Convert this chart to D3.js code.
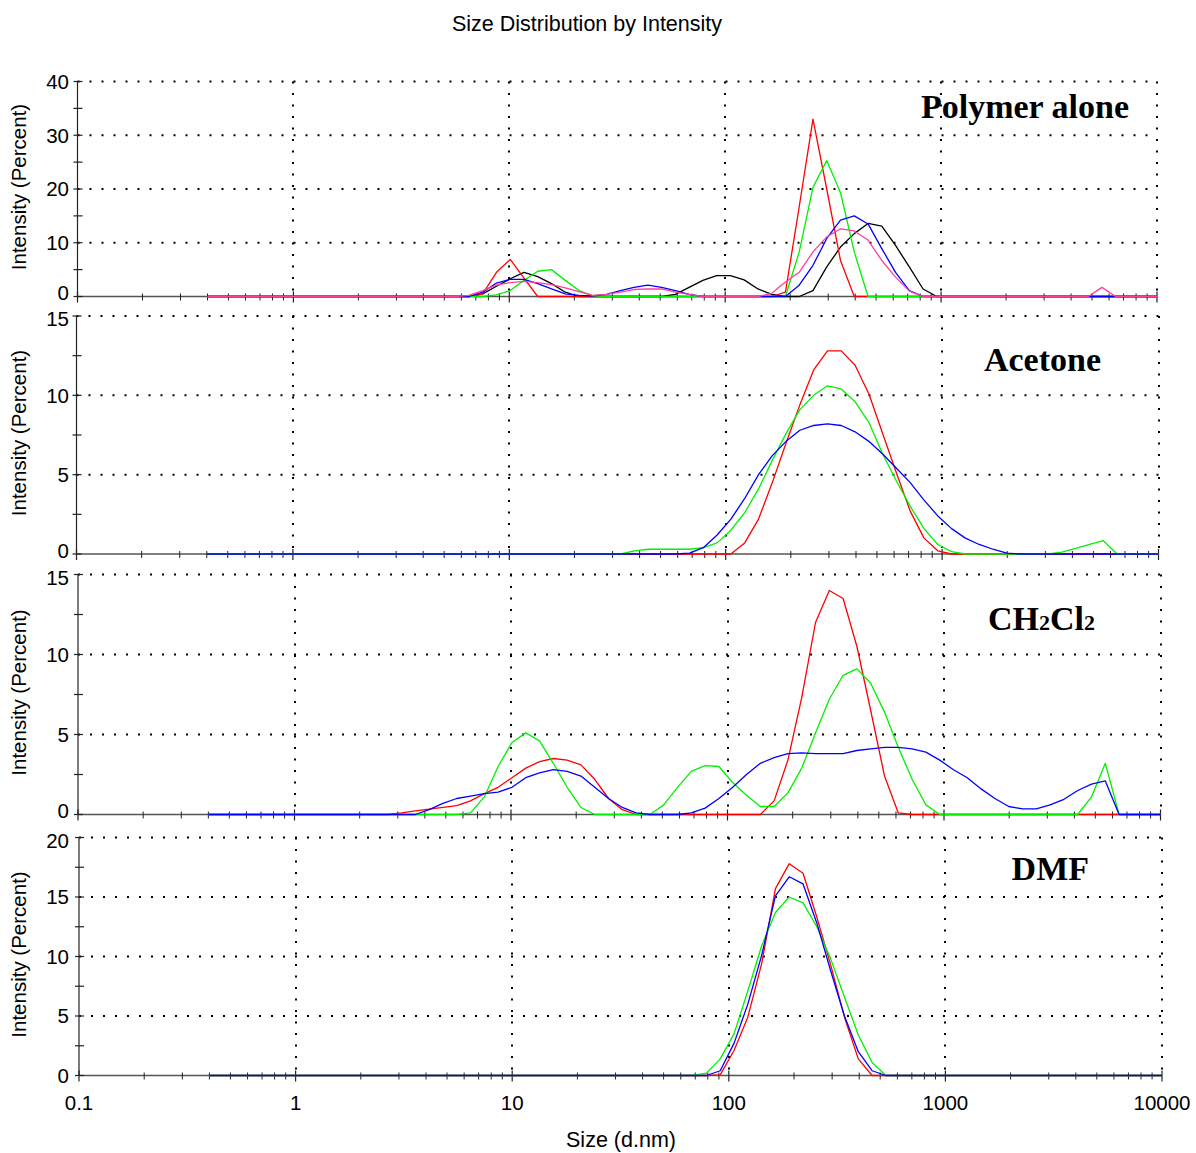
<!DOCTYPE html>
<html>
<head>
<meta charset="utf-8">
<script src="https://cdn.jsdelivr.net/npm/d3@7"></script>
<style>
  body { margin: 0; background: #fff; }
  text { font-family: "Liberation Sans", Arial, sans-serif; fill: #000; }
  .ptitle { font-family: "Liberation Serif", "Times New Roman", serif; font-weight: bold; }
</style>
</head>
<body>
<script>
// size classes (d.nm) of the instrument, 70 bins
var sizes = [0.4, 0.4632, 0.5365, 0.6213, 0.7195, 0.8332, 0.9649, 1.117, 1.294, 1.499,
    1.736, 2.010, 2.328, 2.696, 3.122, 3.615, 4.187, 4.849, 5.615, 6.503,
    7.531, 8.721, 10.10, 11.70, 13.54, 15.69, 18.17, 21.04, 24.36, 28.21,
    32.67, 37.84, 43.82, 50.75, 58.77, 68.06, 78.82, 91.28, 105.7, 122.4,
    141.8, 164.2, 190.1, 220.2, 255.0, 295.3, 342.0, 396.1, 458.7, 531.2,
    615.1, 712.4, 825.0, 955.4, 1106, 1281, 1484, 1718, 1990, 2305,
    2669, 3091, 3580, 4145, 4801, 5560, 6439, 7456, 8635, 10000];

// Polymer alone
var polymerRed = [0, 0, 0, 0, 0, 0, 0, 0, 0, 0,
    0, 0, 0, 0, 0, 0, 0, 0, 0, 0,
    0.5, 4.5, 6.9, 3.4, 0, 0, 0, 0, 0, 0,
    0, 0, 0, 0, 0, 0, 0, 0, 0, 0,
    0, 0, 0.8, 16.7, 33, 20, 6.7, 0, 0, 0,
    0, 0, 0, 0, 0, 0, 0, 0, 0, 0,
    0, 0, 0, 0, 0, 0, 0, 0, 0, 0];
var polymerGreen = [0, 0, 0, 0, 0, 0, 0, 0, 0, 0,
    0, 0, 0, 0, 0, 0, 0, 0, 0, 0,
    0, 0.3, 1.1, 3.0, 4.7, 5.0, 3.0, 1.1, 0.1, 0,
    0, 0, 0, 0, 0, 0, 0, 0, 0, 0,
    0, 0, 0, 8.3, 20.3, 25.3, 19.3, 8.3, 0, 0,
    0, 0, 0, 0, 0, 0, 0, 0, 0, 0,
    0, 0, 0, 0, 0, 0, 0, 0, 0, 0];
var polymerBlue = [0, 0, 0, 0, 0, 0, 0, 0, 0, 0,
    0, 0, 0, 0, 0, 0, 0, 0, 0, 0,
    0.8, 2.5, 3.2, 3.2, 2.4, 1.4, 0.5, 0.2, 0.1, 0.4,
    1.1, 1.7, 2.1, 1.7, 1.1, 0.4, 0, 0, 0, 0,
    0, 0, 0, 2.1, 5.8, 10.8, 14.2, 15.0, 13.5, 8.9,
    4.5, 1.1, 0, 0, 0, 0, 0, 0, 0, 0,
    0, 0, 0, 0, 0, 0, 0, 0, 0, 0];
var polymerBlack = [0, 0, 0, 0, 0, 0, 0, 0, 0, 0,
    0, 0, 0, 0, 0, 0, 0, 0, 0, 0,
    0.5, 1.9, 3.3, 4.5, 3.7, 2.4, 0.8, 0, 0, 0,
    0, 0, 0, 0, 0.4, 1.7, 3.0, 3.9, 3.9, 3.1,
    1.4, 0.4, 0, 0, 1.1, 5.5, 9.2, 11.7, 13.6, 13.1,
    9.5, 5.5, 1.4, 0, 0, 0, 0, 0, 0, 0,
    0, 0, 0, 0, 0, 0, 0, 0, 0, 0];
var polymerPink = [0, 0, 0, 0, 0, 0, 0, 0, 0, 0,
    0, 0, 0, 0, 0, 0, 0, 0, 0, 0.2,
    1.1, 2.1, 2.6, 2.8, 2.6, 2.2, 1.6, 0.9, 0.2, 0.4,
    0.8, 1.3, 1.4, 1.4, 0.8, 0.4, 0, 0, 0, 0,
    0, 0.6, 2.7, 4.5, 8.3, 11.1, 12.6, 12.2, 10.5, 6.7,
    3.6, 1.0, 0, 0, 0, 0, 0, 0, 0, 0,
    0, 0, 0, 0, 0, 1.7, 0, 0, 0, 0];

// Acetone
var acetoneRed = [0, 0, 0, 0, 0, 0, 0, 0, 0, 0,
    0, 0, 0, 0, 0, 0, 0, 0, 0, 0,
    0, 0, 0, 0, 0, 0, 0, 0, 0, 0,
    0, 0, 0, 0, 0, 0, 0, 0, 0, 0.7,
    2.2, 4.5, 7.0, 9.4, 11.6, 12.8, 12.8, 11.9, 10.1, 7.6,
    5.1, 2.7, 1.0, 0.2, 0, 0, 0, 0, 0, 0,
    0, 0, 0, 0, 0, 0, 0, 0, 0, 0];
var acetoneGreen = [0, 0, 0, 0, 0, 0, 0, 0, 0, 0,
    0, 0, 0, 0, 0, 0, 0, 0, 0, 0,
    0, 0, 0, 0, 0, 0, 0, 0, 0, 0,
    0, 0.2, 0.3, 0.3, 0.3, 0.3, 0.4, 0.7, 1.5, 2.6,
    4.1, 5.9, 7.6, 9.1, 10.0, 10.6, 10.4, 9.6, 8.3, 6.3,
    4.6, 3.0, 1.6, 0.6, 0.15, 0, 0, 0, 0, 0,
    0, 0, 0.12, 0.36, 0.6, 0.84, 0, 0, 0, 0];
var acetoneBlue = [0, 0, 0, 0, 0, 0, 0, 0, 0, 0,
    0, 0, 0, 0, 0, 0, 0, 0, 0, 0,
    0, 0, 0, 0, 0, 0, 0, 0, 0, 0,
    0, 0, 0, 0, 0, 0.05, 0.4, 1.2, 2.2, 3.5,
    5.0, 6.2, 7.1, 7.8, 8.1, 8.2, 8.1, 7.7, 7.1, 6.3,
    5.4, 4.5, 3.4, 2.4, 1.6, 1.0, 0.6, 0.3, 0.05, 0,
    0, 0, 0, 0, 0, 0, 0, 0, 0, 0];

// CH2Cl2
var dcmRed = [0, 0, 0, 0, 0, 0, 0, 0, 0, 0,
    0, 0, 0, 0, 0.1, 0.23, 0.33, 0.44, 0.56, 0.85,
    1.3, 1.7, 2.3, 2.9, 3.3, 3.5, 3.4, 3.1, 2.2, 1.0,
    0.3, 0, 0, 0, 0, 0, 0, 0, 0, 0,
    0, 0.85, 3.4, 7.3, 12.0, 14.0, 13.5, 10.5, 6.5, 2.4,
    0.1, 0, 0, 0, 0, 0, 0, 0, 0, 0,
    0, 0, 0, 0, 0, 0, 0, 0, 0, 0];
var dcmGreen = [0, 0, 0, 0, 0, 0, 0, 0, 0, 0,
    0, 0, 0, 0, 0, 0, 0, 0, 0, 0.1,
    1.1, 3.0, 4.5, 5.1, 4.6, 3.2, 1.7, 0.44, 0, 0,
    0, 0, 0, 0.6, 1.7, 2.7, 3.05, 3.0, 2.0, 1.2,
    0.5, 0.5, 1.35, 2.9, 5.1, 7.2, 8.7, 9.1, 8.2, 6.4,
    4.2, 2.2, 0.6, 0, 0, 0, 0, 0, 0, 0,
    0, 0, 0, 0, 1.1, 3.2, 0, 0, 0, 0];
var dcmBlue = [0, 0, 0, 0, 0, 0, 0, 0, 0, 0,
    0, 0, 0, 0, 0, 0, 0.3, 0.7, 1.0, 1.15,
    1.3, 1.4, 1.7, 2.3, 2.6, 2.8, 2.7, 2.4, 1.7, 1.0,
    0.44, 0.1, 0, 0, 0, 0.1, 0.4, 1.0, 1.7, 2.5,
    3.2, 3.55, 3.8, 3.85, 3.8, 3.8, 3.8, 4.0, 4.1, 4.2,
    4.2, 4.1, 3.9, 3.4, 2.8, 2.3, 1.6, 1.0, 0.5, 0.35,
    0.35, 0.6, 0.95, 1.5, 1.9, 2.1, 0, 0, 0, 0];

// DMF
var dmfRed = [0, 0, 0, 0, 0, 0, 0, 0, 0, 0,
    0, 0, 0, 0, 0, 0, 0, 0, 0, 0,
    0, 0, 0, 0, 0, 0, 0, 0, 0, 0,
    0, 0, 0, 0, 0, 0, 0, 0.05, 2.1, 4.9,
    9.4, 15.7, 17.8, 17.0, 13.3, 9.3, 4.9, 1.4, 0, 0,
    0, 0, 0, 0, 0, 0, 0, 0, 0, 0,
    0, 0, 0, 0, 0, 0, 0, 0, 0, 0];
var dmfGreen = [0, 0, 0, 0, 0, 0, 0, 0, 0, 0,
    0, 0, 0, 0, 0, 0, 0, 0, 0, 0,
    0, 0, 0, 0, 0, 0, 0, 0, 0, 0,
    0, 0, 0, 0, 0, 0, 0.2, 1.4, 3.5, 7.1,
    10.9, 13.7, 15.0, 14.5, 12.5, 9.8, 6.6, 3.4, 1.1, 0,
    0, 0, 0, 0, 0, 0, 0, 0, 0, 0,
    0, 0, 0, 0, 0, 0, 0, 0, 0, 0];
var dmfBlue = [0, 0, 0, 0, 0, 0, 0, 0, 0, 0,
    0, 0, 0, 0, 0, 0, 0, 0, 0, 0,
    0, 0, 0, 0, 0, 0, 0, 0, 0, 0,
    0, 0, 0, 0, 0, 0, 0, 0.4, 2.7, 6.0,
    10.1, 15.1, 16.7, 16.1, 12.8, 8.8, 5.0, 2.0, 0.4, 0,
    0, 0, 0, 0, 0, 0, 0, 0, 0, 0,
    0, 0, 0, 0, 0, 0, 0, 0, 0, 0];

var xTickValues = [0.1, 1, 10, 100, 1000, 10000];
var xTickLabels = ["0.1", "1", "10", "100", "1000", "10000"];
var panelNames = ["Polymer alone", "Acetone", "CH2Cl2", "DMF"];
var yMaxes = [40, 15, 15, 20];
var ySteps = [10, 5, 5, 5];

var w = 1196;
var h = 1153;
var colors = { red: "#ff0000", green: "#00f000", blue: "#0000ff", black: "#000000", pink: "#ff3fa0" };

// layout of the four stacked panels
var panels = [
    { top: 81.5, bottom: 296.5, x0: 77.5, x1: 1157, labelX: 1129, labelY: 118,
      series: [[polymerBlack, colors.black], [polymerRed, colors.red], [polymerGreen, colors.green], [polymerBlue, colors.blue], [polymerPink, colors.pink]] },
    { top: 316, bottom: 554, x0: 76.5, x1: 1158.5, labelX: 1101, labelY: 371,
      series: [[acetoneRed, colors.red], [acetoneGreen, colors.green], [acetoneBlue, colors.blue]] },
    { top: 574.5, bottom: 814.5, x0: 78, x1: 1160.5, labelX: 1095, labelY: 630,
      series: [[dcmRed, colors.red], [dcmGreen, colors.green], [dcmBlue, colors.blue]] },
    { top: 837.5, bottom: 1075.5, x0: 79, x1: 1162, labelX: 1089, labelY: 880,
      series: [[dmfRed, colors.red], [dmfGreen, colors.green], [dmfBlue, colors.blue]] }
];

var svg = d3.select("body").append("svg").attr("width", w).attr("height", h);
svg.append("rect").attr("width", w).attr("height", h).attr("fill", "#fff");

svg.append("text")
    .attr("x", 587).attr("y", 31)
    .attr("text-anchor", "middle")
    .attr("font-size", "21.5px")
    .text("Size Distribution by Intensity");

panels.forEach(function (p, k) {
    var x = d3.scaleLog().domain([0.1, 10000]).range([p.x0, p.x1]);
    var y = d3.scaleLinear().domain([0, yMaxes[k]]).range([p.bottom, p.top]);
    var g = svg.append("g");
    var first = k === 0;
    var last = k === panels.length - 1;

    // dotted grid
    var yTicks = d3.range(0, yMaxes[k] + 0.001, ySteps[k]);
    g.selectAll(".hgrid")
        .data(yTicks.filter(function (d) { return d > 0; }))
        .enter().append("line")
        .attr("x1", p.x0).attr("x2", p.x1)
        .attr("y1", function (d) { return y(d); })
        .attr("y2", function (d) { return y(d); })
        .attr("stroke", "#000").attr("stroke-width", 2)
        .attr("stroke-dasharray", "2,10");
    g.selectAll(".vgrid")
        .data(xTickValues.slice(1))
        .enter().append("line")
        .attr("x1", function (d) { return Math.round(x(d)); })
        .attr("x2", function (d) { return Math.round(x(d)); })
        .attr("y1", p.top).attr("y2", p.bottom)
        .attr("stroke", "#000").attr("stroke-width", 2)
        .attr("stroke-dasharray", "2,9.5");

    // x axis line + log ticks
    g.append("line")
        .attr("x1", p.x0).attr("x2", p.x1)
        .attr("y1", p.bottom).attr("y2", p.bottom)
        .attr("stroke", "#555").attr("stroke-width", 1.5);
    var minor = [];
    xTickValues.slice(0, -1).forEach(function (d) {
        for (var m = 2; m < 10; m++) minor.push(d * m);
    });
    g.selectAll(".xminor")
        .data(minor)
        .enter().append("line")
        .attr("x1", function (d) { return x(d); })
        .attr("x2", function (d) { return x(d); })
        .attr("y1", p.bottom - 3).attr("y2", p.bottom + 4)
        .attr("stroke", "#222").attr("stroke-width", 1);
    g.selectAll(".xmajor")
        .data(xTickValues)
        .enter().append("line")
        .attr("x1", function (d) { return x(d); })
        .attr("x2", function (d) { return x(d); })
        .attr("y1", p.bottom - 5).attr("y2", p.bottom + 6)
        .attr("stroke", "#222").attr("stroke-width", 1.2);

    // y axis
    g.append("line")
        .attr("x1", p.x0).attr("x2", p.x0)
        .attr("y1", p.top).attr("y2", p.bottom)
        .attr("stroke", "#222").attr("stroke-width", 1.2);
    var yMinor = d3.range(ySteps[k] / 2, yMaxes[k], ySteps[k]);
    g.selectAll(".ytick")
        .data(yTicks.concat(yMinor))
        .enter().append("line")
        .attr("x1", p.x0 - 4).attr("x2", p.x0 + 5)
        .attr("y1", function (d) { return y(d); })
        .attr("y2", function (d) { return y(d); })
        .attr("stroke", "#222").attr("stroke-width", 1.2);
    // stacked panels: nudge the 0 label up and the top label down so they do not collide
    g.selectAll(".ylabel")
        .data(yTicks)
        .enter().append("text")
        .attr("x", 69)
        .attr("y", function (d) {
            var shift = 0;
            if (d === 0 && !last) shift = -3.5;
            if (d === yMaxes[k] && !first) shift = 3;
            return y(d) + shift;
        })
        .attr("dy", "0.36em")
        .attr("text-anchor", "end")
        .attr("font-size", "20.5px")
        .text(function (d) { return d; });

    svg.append("text")
        .attr("transform", "translate(18," + ((p.top + p.bottom) / 2 - 2) + ") rotate(-90)")
        .attr("text-anchor", "middle")
        .attr("dominant-baseline", "central")
        .attr("font-size", "20.5px")
        .text("Intensity (Percent)");

    // data lines
    var line = d3.line()
        .x(function (d, i) { return x(sizes[i]); })
        .y(function (d) { return y(d); });
    p.series.forEach(function (s) {
        g.append("path")
            .datum(s[0])
            .attr("d", line)
            .attr("fill", "none")
            .attr("stroke", s[1])
            .attr("stroke-width", 1.3)
            .attr("stroke-linejoin", "round");
    });

    // panel label
    var t = g.append("text")
        .attr("class", "ptitle")
        .attr("x", p.labelX).attr("y", p.labelY)
        .attr("text-anchor", "end")
        .attr("font-size", "34px");
    if (panelNames[k] === "CH2Cl2") {
        t.append("tspan").text("CH");
        t.append("tspan").attr("font-size", "22px").text("2");
        t.append("tspan").text("Cl");
        t.append("tspan").attr("font-size", "22px").text("2");
    } else {
        t.text(panelNames[k]);
    }

    // x tick labels on the bottom panel only
    if (last) {
        g.selectAll(".xlabel")
            .data(xTickValues)
            .enter().append("text")
            .attr("x", function (d) { return x(d); })
            .attr("y", 1110)
            .attr("text-anchor", "middle")
            .attr("font-size", "20.5px")
            .text(function (d, i) { return xTickLabels[i]; });
    }
});

svg.append("text")
    .attr("x", 621).attr("y", 1147)
    .attr("text-anchor", "middle")
    .attr("font-size", "21.5px")
    .text("Size (d.nm)");
</script>
</body>
</html>
